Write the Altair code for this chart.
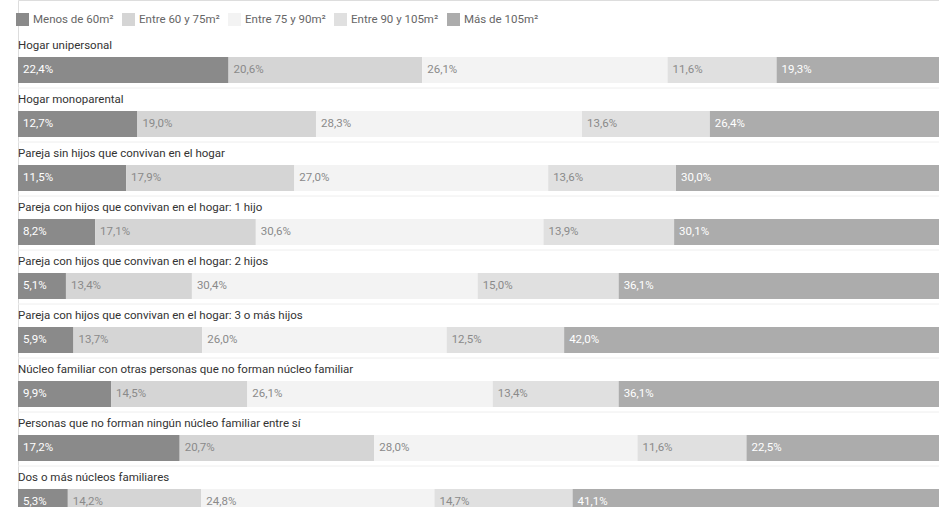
import altair as alt
import pandas as pd

rows = [
    "Hogar unipersonal",
    "Hogar monoparental",
    "Pareja sin hijos que convivan en el hogar",
    "Pareja con hijos que convivan en el hogar: 1 hijo",
    "Pareja con hijos que convivan en el hogar: 2 hijos",
    "Pareja con hijos que convivan en el hogar: 3 o más hijos",
    "Núcleo familiar con otras personas que no forman núcleo familiar",
    "Personas que no forman ningún núcleo familiar entre sí",
    "Dos o más núcleos familiares",
]
cats = ["Menos de 60m²", "Entre 60 y 75m²", "Entre 75 y 90m²", "Entre 90 y 105m²", "Más de 105m²"]
menos60 = [22.4, 12.7, 11.5, 8.2, 5.1, 5.9, 9.9, 17.2, 5.3]
e60_75 = [20.6, 19.0, 17.9, 17.1, 13.4, 13.7, 14.5, 20.7, 14.2]
e75_90 = [26.1, 28.3, 27.0, 30.6, 30.4, 26.0, 26.1, 28.0, 24.8]
e90_105 = [11.6, 13.6, 13.6, 13.9, 15.0, 12.5, 13.4, 11.6, 14.7]
mas105 = [19.3, 26.4, 30.0, 30.1, 36.1, 42.0, 36.1, 22.5, 41.1]
series = [menos60, e60_75, e75_90, e90_105, mas105]
colors = ["#8a8a8a", "#d5d5d5", "#f3f3f3", "#e0e0e0", "#acacac"]
text_colors = ["#ffffff", "#8a8a8a", "#8a8a8a", "#8a8a8a", "#ffffff"]

recs = []
for ri, rname in enumerate(rows):
    acc = 0.0
    for ci, cname in enumerate(cats):
        v = series[ci][ri]
        recs.append({
            "row": ri, "cat": cname, "ci": ci, "value": v,
            "x0": acc, "x1": acc + v,
            "label": f"{v:.1f}".replace(".", ",") + "%", "tc": text_colors[ci],
        })
        acc += v
df = pd.DataFrame(recs)
rdf = pd.DataFrame({"row": list(range(len(rows))), "rowname": rows})

W = 921
H = 507
FS = 11.5
xs = alt.Scale(domain=[0, 100 * W / 940], nice=False, zero=False)
ys = alt.Scale(domain=[-70 / 54, (H - 70) / 54], reverse=True, nice=False, zero=False)

base = alt.Chart(df).transform_calculate(
    yt="datum.row - 13/54", yb="datum.row + 13/54"
)

bars = base.mark_rect(clip=True).encode(
    x=alt.X("x0:Q", scale=xs, axis=None),
    x2="x1:Q",
    y=alt.Y("yt:Q", scale=ys, axis=None),
    y2="yb:Q",
    color=alt.Color(
        "cat:N",
        scale=alt.Scale(domain=cats, range=colors),
        legend=alt.Legend(
            orient="none", legendX=-2, legendY=13, direction="horizontal",
            title=None, symbolType="square", symbolSize=169, symbolStrokeWidth=0,
            labelFontSize=FS, labelFont="Roboto", labelColor="#666666",
            columnPadding=8, labelOffset=4,
        ),
    ),
)

labels = base.mark_text(
    align="left", baseline="middle", dx=5, fontSize=FS, font="Roboto"
).encode(
    x=alt.X("x0:Q", scale=xs, axis=None),
    y=alt.Y("row:Q", scale=ys, axis=None),
    text="label:N",
    color=alt.Color("tc:N", scale=None),
)

rbase = alt.Chart(rdf).transform_calculate(
    ly="datum.row - 24/54", sy="datum.row + 18/54"
)
rowlabels = rbase.mark_text(
    align="left", baseline="middle", fontSize=FS, font="Roboto", color="#333333"
).encode(
    x=alt.value(0),
    y=alt.Y("ly:Q", scale=ys, axis=None),
    text="rowname:N",
)
seps = rbase.mark_rule(color="#eeeeee", strokeWidth=1).encode(
    x=alt.value(0),
    x2=alt.value(W),
    y=alt.Y("sy:Q", scale=ys, axis=None),
)

chart = alt.layer(seps, bars, labels, rowlabels).properties(
    width=W, height=H,
    padding={"left": 18, "top": 0, "right": 0, "bottom": 0},
    autosize=alt.AutoSizeParams(type="none"),
).configure_view(stroke=None).configure(background="#ffffff")

chart.save("out.html", embed_options={"renderer": "svg", "actions": False})
